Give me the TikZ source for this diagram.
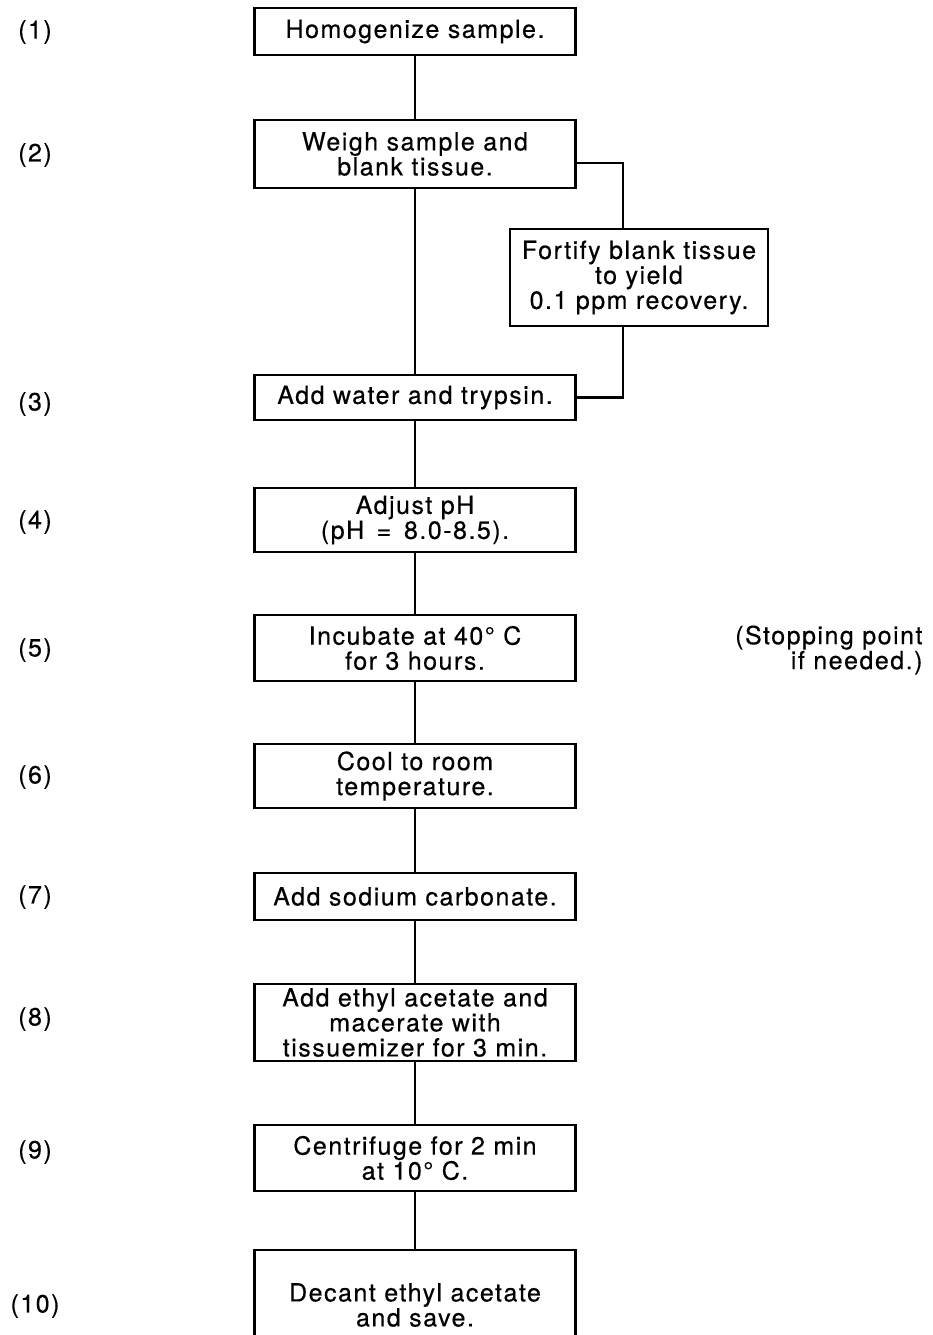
\documentclass[tikz,border=0pt]{standalone}
\usepackage{fontspec}
\setmainfont[LetterSpace=6,FakeBold=0.4]{TeX Gyre Heros}
\usetikzlibrary{positioning}

\begin{document}
\begin{tikzpicture}[x=1pt, y=-1pt,
    every node/.style = {font=\fontsize{25}{25}\selectfont},
    stage/.style      = {draw, line width=2.2pt, minimum width=321pt,
      align=center, inner sep=0pt},
    link/.style       = {line width=2.2pt}]
  \clip (0,0) rectangle (932,1335);

  % step numbers
  \foreach \n/\y in {1/32,2/155,3/404,4/522,5/650,6/777,7/897,8/1019,9/1152,10/1306}
    \node (num\n) at (35,\y) {(\n)};

  % main column
  \node[stage, minimum height=47pt] (homog)   at (415,31.5)  {Homogenize sample.};
  \node[stage, minimum height=68pt] (weigh)   at (415,154)   {Weigh sample and\\blank tissue.};
  \node[stage, minimum height=45pt] (water)   at (415,397.5) {Add water and trypsin.};
  \node[stage, minimum height=64pt] (adjust)  at (415,520)   {Adjust pH\\(pH \,=\, 8.0-8.5).};
  \node[stage, minimum height=66pt] (incub)   at (415,648)   {Incubate at 40\textdegree\ C\\for 3 hours.};
  \node[stage, minimum height=64pt] (cool)    at (415,776)   {Cool to room\\temperature.};
  \node[stage, minimum height=47pt] (sodium)  at (415,896.5) {Add sodium carbonate.};
  \node[stage, minimum height=77pt] (ethyl)   at (415,1022.5){Add ethyl acetate and\\macerate with\\tissuemizer for 3 min.};
  \node[stage, minimum height=66pt] (centri)  at (415,1158)  {Centrifuge for 2 min\\at 10\textdegree\ C.};
  \node[stage, minimum height=110pt] (decant) at (415,1305)  {Decant ethyl acetate\\and save.};

  % side branch
  \node[stage, minimum width=258pt, minimum height=97pt] (fortify) at (639,277.5)
    {Fortify blank tissue\\to yield\\0.1 ppm recovery.};

  \node[align=right, anchor=east] (stop) at (926,650) {(Stopping point\\if needed.)};

  % connectors
  \draw[link] (homog) -- (weigh);
  \draw[link] (weigh) -- (water);
  \draw[link] (water) -- (adjust);
  \draw[link] (adjust) -- (incub);
  \draw[link] (incub) -- (cool);
  \draw[link] (cool) -- (sodium);
  \draw[link] (sodium) -- (ethyl);
  \draw[link] (ethyl) -- (centri);
  \draw[link] (centri) -- (decant);
  \draw[link] ([yshift=-9pt]weigh.east) -| ([xshift=-16pt]fortify.north);
  \draw[link] ([xshift=-16pt]fortify.south) |- (water.east);
\end{tikzpicture}
\end{document}
